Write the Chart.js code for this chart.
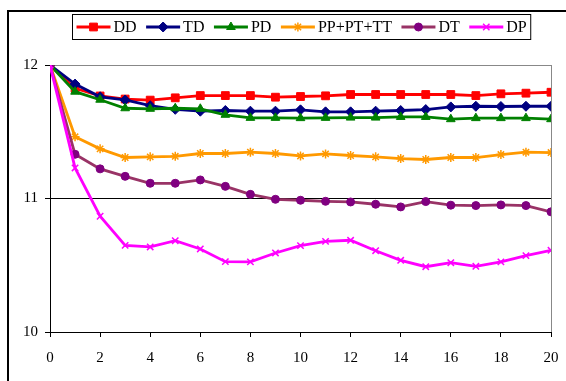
<!DOCTYPE html>
<html>
<head>
<meta charset="utf-8">
<script src="https://cdn.jsdelivr.net/npm/chart.js@4/dist/chart.umd.min.js"></script>
<style>
  html, body { margin: 0; padding: 0; background: #fff; }
  canvas { display: block; }
</style>
</head>
<body>
<canvas id="c" width="566" height="381"></canvas>
<script>
// x positions (steps)
const steps = [0, 1, 2, 3, 4, 5, 6, 7, 8, 9, 10, 11, 12, 13, 14, 15, 16, 17, 18, 19, 20];

// series values
const ddValues = [12, 11.825, 11.768, 11.745, 11.737, 11.754, 11.771, 11.771, 11.771, 11.759, 11.764, 11.769, 11.779, 11.779, 11.779, 11.779, 11.779, 11.771, 11.784, 11.789, 11.796];
const tdValues = [12, 11.857, 11.762, 11.738, 11.695, 11.668, 11.654, 11.659, 11.654, 11.654, 11.664, 11.649, 11.649, 11.654, 11.659, 11.666, 11.686, 11.691, 11.689, 11.691, 11.691];
const pdValues = [12, 11.800, 11.740, 11.676, 11.672, 11.676, 11.672, 11.627, 11.604, 11.604, 11.602, 11.604, 11.606, 11.606, 11.611, 11.611, 11.594, 11.602, 11.602, 11.602, 11.594];
const ppValues = [12, 11.462, 11.372, 11.307, 11.312, 11.316, 11.337, 11.337, 11.347, 11.337, 11.319, 11.334, 11.322, 11.312, 11.299, 11.292, 11.307, 11.307, 11.329, 11.347, 11.344];
const dtValues = [12, 11.331, 11.222, 11.166, 11.114, 11.114, 11.139, 11.091, 11.031, 10.994, 10.987, 10.979, 10.974, 10.957, 10.937, 10.977, 10.950, 10.947, 10.952, 10.947, 10.900];
const dpValues = [12, 11.229, 10.867, 10.649, 10.637, 10.684, 10.622, 10.527, 10.525, 10.592, 10.647, 10.679, 10.687, 10.609, 10.537, 10.489, 10.519, 10.492, 10.525, 10.572, 10.612];

// series names
const seriesNames = ['DD', 'TD', 'PD', 'PP+PT+TT', 'DT', 'DP'];

// axis ticks
const xTicks = [0, 2, 4, 6, 8, 10, 12, 14, 16, 18, 20];
const yTicks = [10, 11, 12];

const FONT = "'Liberation Serif', 'Times New Roman', serif";

function pts(values) {
  return values.map((v, i) => ({ x: steps[i], y: v }));
}

const styles = [
  { line: '#FF0000', fill: '#FF0000', point: 'rect', r: 5.5 },
  { line: '#000080', fill: '#000080', point: 'rectRot', r: 5 },
  { line: '#008000', fill: '#008000', point: 'triangle', r: 5 },
  { line: '#FF9900', fill: '#FF9900', point: 'star', r: 4.5 },
  { line: '#993366', fill: '#800080', point: 'circle', r: 4 },
  { line: '#FF00FF', fill: '#FF00FF', point: 'crossRot', r: 4.5 }
];
const seriesValues = [ddValues, tdValues, pdValues, ppValues, dtValues, dpValues];

const datasets = seriesNames.map((name, i) => ({
  label: name,
  data: pts(seriesValues[i]),
  borderColor: styles[i].line,
  borderWidth: 2.8,
  pointStyle: styles[i].point,
  pointRadius: styles[i].r,
  pointBackgroundColor: styles[i].fill,
  pointBorderColor: styles[i].fill,
  pointBorderWidth: (styles[i].point === 'star' || styles[i].point === 'crossRot') ? 1.5 : 1,
  tension: 0,
  order: seriesNames.length - i
}));

// outer frame lines (top and left)
const framePlugin = {
  id: 'frame',
  beforeDraw(chart) {
    const ctx = chart.ctx;
    ctx.save();
    ctx.fillStyle = '#fff';
    ctx.fillRect(0, 0, chart.width, chart.height);
    ctx.fillStyle = '#000';
    ctx.fillRect(7, 10, chart.width - 7, 2);
    ctx.fillRect(7, 10, 2, chart.height - 10);
    ctx.restore();
  }
};

// boxed legend with a line sample and marker per series
const boxLegend = {
  id: 'boxLegend',
  afterDraw(chart) {
    const ctx = chart.ctx;
    ctx.save();
    ctx.font = '16px ' + FONT;
    const lineW = 34, gap1 = 3, gap2 = 9.5, pad = 4;
    const items = chart.data.datasets.map(ds => ({ ds, w: ctx.measureText(ds.label).width }));
    let total = pad * 2;
    items.forEach((it, i) => { total += lineW + gap1 + it.w + (i < items.length - 1 ? gap2 : 0); });
    const cx = 301;
    const left = Math.round(cx - total / 2) + 0.5;
    const top = 14.5, h = 25;
    ctx.strokeStyle = '#000';
    ctx.lineWidth = 1;
    ctx.strokeRect(left, top, total, h);
    const midY = top + h / 2;
    let x = left + pad;
    items.forEach(it => {
      const ds = it.ds;
      ctx.strokeStyle = ds.borderColor;
      ctx.lineWidth = 2.8;
      ctx.beginPath();
      ctx.moveTo(x, midY);
      ctx.lineTo(x + lineW, midY);
      ctx.stroke();
      ctx.fillStyle = ds.pointBackgroundColor;
      ctx.strokeStyle = ds.pointBorderColor;
      ctx.lineWidth = ds.pointBorderWidth;
      Chart.helpers.drawPoint(ctx, { pointStyle: ds.pointStyle, radius: ds.pointRadius, rotation: 0, borderWidth: ds.pointBorderWidth }, x + lineW / 2, midY);
      x += lineW + gap1;
      ctx.fillStyle = '#000';
      ctx.textBaseline = 'middle';
      ctx.textAlign = 'left';
      ctx.fillText(ds.label, x, midY + 1);
      x += it.w + gap2;
    });
    ctx.restore();
  }
};

new Chart(document.getElementById('c'), {
  type: 'line',
  data: { datasets },
  options: {
    responsive: false,
    devicePixelRatio: 1,
    animation: false,
    layout: { padding: { left: 0, right: 15, top: 65, bottom: 0 } },
    plugins: {
      legend: { display: false },
      tooltip: { enabled: false }
    },
    scales: {
      x: {
        type: 'linear',
        min: xTicks[0],
        max: xTicks[xTicks.length - 1],
        afterBuildTicks(scale) { scale.ticks = xTicks.map(v => ({ value: v })); },
        afterFit(scale) {
          scale.height = 49;
          scale.paddingLeft = 0;
          scale.paddingRight = 0;
        },
        ticks: { font: { family: FONT, size: 15 }, color: '#000', padding: 12, maxRotation: 0 },
        grid: {
          color: ctx => (ctx.tick && ctx.tick.value === 20) ? '#888' : 'rgba(0,0,0,0)',
          tickColor: '#000',
          tickLength: 5,
          lineWidth: 1
        },
        border: { color: '#000', width: 1 }
      },
      y: {
        min: yTicks[0],
        max: yTicks[yTicks.length - 1],
        afterBuildTicks(scale) { scale.ticks = yTicks.map(v => ({ value: v })); },
        afterFit(scale) {
          scale.width = 50;
          scale.paddingTop = 0;
          scale.paddingBottom = 0;
        },
        ticks: { font: { family: FONT, size: 15 }, color: '#000', padding: 7 },
        grid: {
          color: ctx => (ctx.tick && ctx.tick.value === 12) ? '#888' : '#000',
          tickColor: '#000',
          tickLength: 5,
          lineWidth: 1
        },
        border: { color: '#000', width: 1 }
      }
    }
  },
  plugins: [framePlugin, boxLegend]
});
</script>
</body>
</html>
